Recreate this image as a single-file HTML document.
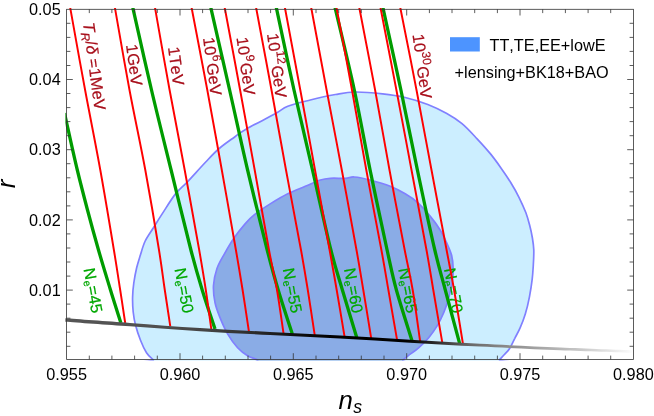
<!DOCTYPE html>
<html><head><meta charset="utf-8"><style>
html,body{margin:0;padding:0;background:#fff;}
svg{display:block;will-change:transform;font-family:"Liberation Sans",sans-serif;font-kerning:none;}
</style></head><body>
<svg width="654" height="416" viewBox="0 0 654 416">
<rect width="654" height="416" fill="#fff"/>
<defs><clipPath id="cp"><rect x="65.4" y="8.0" width="568.0" height="352.4"/></clipPath>
<linearGradient id="bg" gradientUnits="userSpaceOnUse" x1="66.6" y1="0" x2="633.4" y2="0"><stop offset="0" stop-color="#565656"/><stop offset="0.15" stop-color="#505050"/><stop offset="0.25" stop-color="#444"/><stop offset="0.33" stop-color="#2c2c2c"/><stop offset="0.4" stop-color="#101010"/><stop offset="0.47" stop-color="#000"/><stop offset="0.6" stop-color="#000"/><stop offset="0.65" stop-color="#2a2a2a"/><stop offset="0.68" stop-color="#484848"/><stop offset="0.712" stop-color="#686868"/><stop offset="0.765" stop-color="#858585"/><stop offset="0.835" stop-color="#a5a5a5"/><stop offset="0.906" stop-color="#c8c8c8"/><stop offset="0.964" stop-color="#e8e8e8"/><stop offset="0.992" stop-color="#f8f8f8"/><stop offset="1" stop-color="#fff"/></linearGradient></defs>
<g clip-path="url(#cp)">
<path d="M235.0 136.7 C239.5 133.4 239.7 132.7 246.4 128.9 C253.1 125.1 268.3 117.6 275.2 113.8 C282.1 110.0 281.9 108.6 287.8 106.3 C293.7 104.0 302.4 102.0 310.3 100.0 C318.2 98.0 327.9 95.8 335.4 94.5 C342.8 93.2 347.1 92.1 355.0 92.0 C362.9 91.9 374.2 92.9 382.6 93.8 C391.0 94.7 397.7 95.7 405.2 97.5 C412.7 99.3 420.9 101.8 427.8 104.5 C434.7 107.2 441.1 110.3 446.8 113.5 C452.5 116.7 456.9 119.4 462.0 123.6 C467.1 127.8 472.4 133.8 477.1 138.8 C481.9 143.9 486.6 149.1 490.5 153.9 C494.4 158.7 497.2 162.6 500.6 167.4 C504.0 172.2 507.6 177.5 510.7 182.5 C513.8 187.5 516.6 192.5 519.1 197.6 C521.6 202.7 524.1 208.2 525.9 212.8 C527.6 217.4 528.5 220.8 529.6 225.0 C530.7 229.2 531.7 233.8 532.4 238.0 C533.1 242.2 533.6 245.5 533.8 250.0 C533.9 254.5 533.6 260.3 533.3 265.2 C533.0 270.1 532.8 274.0 532.2 279.2 C531.6 284.4 530.6 290.8 529.5 296.6 C528.4 302.4 526.9 308.8 525.3 314.0 C523.7 319.2 521.9 323.8 520.1 327.9 C518.4 331.9 516.5 334.9 514.8 338.3 C513.0 341.7 511.3 345.8 509.6 348.5 C507.9 351.2 506.1 352.6 504.4 354.5 C502.7 356.4 501.0 358.1 499.4 359.8 C497.8 361.6 551.6 364.1 495.0 365.0 C438.4 365.9 216.9 365.9 160.0 365.0 C103.1 364.1 155.6 361.9 153.3 359.8 C151.1 357.8 148.6 356.0 146.5 352.7 C144.4 349.4 142.3 344.8 140.5 340.2 C138.7 335.6 136.7 329.7 135.5 325.0 C134.3 320.3 133.7 316.7 133.2 312.0 C132.7 307.3 132.5 301.8 132.6 297.0 C132.7 292.2 133.1 287.8 133.8 283.0 C134.5 278.2 135.5 272.7 136.6 268.0 C137.7 263.3 139.0 259.5 140.4 255.0 C141.8 250.5 143.0 245.6 145.2 241.0 C147.4 236.4 150.8 232.0 153.6 227.5 C156.4 223.0 158.3 219.7 162.0 214.1 C165.7 208.5 171.3 199.2 175.5 193.9 C179.7 188.6 182.2 187.4 187.2 182.1 C192.2 176.8 200.4 167.6 205.7 162.0 C211.0 156.4 214.3 152.7 219.2 148.5 C224.1 144.3 230.5 140.0 235.0 136.7Z" fill="#cceeff" stroke="#8080ff" stroke-width="1.7"/>
<path d="M245.1 223.9 C248.5 220.0 249.7 218.4 253.9 215.1 C258.1 211.8 264.6 207.4 270.2 203.9 C275.8 200.4 281.9 196.7 287.8 193.8 C293.7 190.9 299.9 188.6 305.3 186.3 C310.7 184.0 316.2 181.3 320.4 180.0 C324.6 178.7 326.2 178.6 330.4 178.3 C334.6 178.0 341.4 178.5 345.4 178.3 C349.4 178.1 350.1 176.7 354.2 177.0 C358.3 177.3 364.1 178.4 370.1 180.0 C376.1 181.6 384.4 184.0 390.2 186.3 C396.0 188.6 400.6 191.1 405.2 193.8 C409.8 196.5 413.5 198.8 417.7 202.6 C421.9 206.4 426.5 211.8 430.3 216.4 C434.1 221.0 437.6 225.8 440.3 230.2 C443.0 234.6 444.7 238.5 446.6 242.7 C448.5 246.9 450.5 251.0 451.6 255.3 C452.7 259.6 453.1 264.2 453.2 268.7 C453.3 273.2 452.9 277.4 452.2 282.2 C451.5 287.0 450.3 292.2 448.9 297.3 C447.5 302.4 445.8 307.7 443.8 312.5 C441.8 317.3 439.6 321.7 437.1 325.9 C434.6 330.1 431.8 334.0 428.7 337.7 C425.6 341.4 421.7 345.1 418.6 347.8 C415.5 350.6 412.8 352.2 410.2 354.2 C407.6 356.2 405.2 358.0 403.0 359.8 C400.8 361.6 419.8 364.1 397.0 365.0 C374.2 365.9 289.3 365.9 266.0 365.0 C242.7 364.1 260.3 361.4 257.2 359.8 C254.1 358.2 250.9 357.7 247.6 355.7 C244.3 353.7 240.9 351.3 237.6 347.7 C234.3 344.1 230.5 338.9 227.6 333.9 C224.7 328.9 222.1 322.8 220.0 317.6 C217.9 312.4 216.1 307.9 215.0 302.5 C213.9 297.1 213.2 291.1 213.5 285.5 C213.8 279.9 215.2 273.7 216.9 268.7 C218.6 263.7 220.8 260.3 223.6 255.3 C226.4 250.3 230.1 243.7 233.7 238.5 C237.3 233.3 241.7 227.8 245.1 223.9Z" fill="#8aace6" stroke="#8080ff" stroke-width="1.7"/>
<g fill="none" stroke="#009c00" stroke-width="3.3">
<path d="M64.5 113.0 C64.9 114.7 64.6 113.5 66.7 123.0 C68.8 132.5 73.8 155.5 77.3 170.0 C80.8 184.5 84.0 196.7 87.5 210.0 C91.0 223.3 94.7 236.7 98.5 250.0 C102.3 263.3 106.8 277.8 110.5 290.0 C114.2 302.2 119.2 317.5 120.9 323.0"/>
<path d="M132.7 7.3 C132.8 7.6 130.1 -4.5 133.2 9.3 C136.3 23.1 145.2 63.2 151.5 90.0 C157.8 116.8 164.5 143.3 171.1 170.0 C177.7 196.7 185.7 230.0 190.9 250.0 C196.1 270.0 198.2 276.8 202.2 290.0 C206.2 303.2 212.9 322.5 215.0 329.0"/>
<path d="M210.7 7.3 C210.8 7.6 208.1 -4.5 211.2 9.3 C214.3 23.1 223.5 63.2 229.6 90.0 C235.7 116.8 241.3 143.3 247.6 170.0 C253.9 196.7 262.1 230.0 267.2 250.0 C272.3 270.0 274.0 276.0 278.2 290.0 C282.4 304.0 289.9 326.6 292.3 333.9"/>
<path d="M276.3 7.3 C276.3 7.6 273.7 -4.5 276.7 9.3 C279.7 23.1 288.0 63.2 294.0 90.0 C300.0 116.8 306.4 143.3 312.5 170.0 C318.6 196.7 325.9 230.0 330.9 250.0 C335.9 270.0 338.1 275.4 342.4 290.0 C346.7 304.6 354.4 329.8 356.8 337.8"/>
<path d="M335.0 7.3 C335.1 7.6 332.3 -4.5 335.5 9.3 C338.7 23.1 348.5 63.2 354.3 90.0 C360.1 116.8 364.6 143.3 370.1 170.0 C375.6 196.7 382.7 230.0 387.1 250.0 C391.5 270.0 392.2 274.8 396.4 290.0 C400.6 305.2 409.6 332.8 412.2 341.4"/>
<path d="M382.9 7.3 C382.9 7.6 380.3 -4.5 383.3 9.3 C386.3 23.1 395.2 63.2 400.9 90.0 C406.6 116.8 411.8 143.3 417.4 170.0 C423.0 196.7 430.1 230.0 434.8 250.0 C439.5 270.0 441.2 274.4 445.3 290.0 C449.4 305.6 457.2 334.5 459.6 343.4"/>
</g>
<text transform="translate(83.4,269.0) rotate(79.5)" font-size="16.25" fill="#00a800" stroke="#00a800" stroke-width="0.2">N<tspan font-size="10.6" dy="2.3" dx="0.3">e</tspan><tspan dy="-2.3" dx="0.2" font-size="16.25">&#8203;</tspan>=45</text>
<text transform="translate(174.5,269.0) rotate(79.5)" font-size="16.25" fill="#00a800" stroke="#00a800" stroke-width="0.2">N<tspan font-size="10.6" dy="2.3" dx="0.3">e</tspan><tspan dy="-2.3" dx="0.2" font-size="16.25">&#8203;</tspan>=50</text>
<text transform="translate(282.8,269.0) rotate(79.5)" font-size="16.25" fill="#00a800" stroke="#00a800" stroke-width="0.2">N<tspan font-size="10.6" dy="2.3" dx="0.3">e</tspan><tspan dy="-2.3" dx="0.2" font-size="16.25">&#8203;</tspan>=55</text>
<text transform="translate(343.9,269.0) rotate(79.5)" font-size="16.25" fill="#00a800" stroke="#00a800" stroke-width="0.2">N<tspan font-size="10.6" dy="2.3" dx="0.3">e</tspan><tspan dy="-2.3" dx="0.2" font-size="16.25">&#8203;</tspan>=60</text>
<text transform="translate(398.3,269.0) rotate(79.5)" font-size="16.25" fill="#00a800" stroke="#00a800" stroke-width="0.2">N<tspan font-size="10.6" dy="2.3" dx="0.3">e</tspan><tspan dy="-2.3" dx="0.2" font-size="16.25">&#8203;</tspan>=65</text>
<text transform="translate(443.9,269.0) rotate(79.5)" font-size="16.25" fill="#00a800" stroke="#00a800" stroke-width="0.2">N<tspan font-size="10.6" dy="2.3" dx="0.3">e</tspan><tspan dy="-2.3" dx="0.2" font-size="16.25">&#8203;</tspan>=70</text>
<g fill="none" stroke="#ff0000" stroke-width="1.95">
<path d="M70.1 7.3 C70.2 7.6 68.0 -4.5 70.5 9.3 C73.0 23.1 80.1 63.2 85.1 90.0 C90.1 116.8 95.5 143.3 100.3 170.0 C105.1 196.7 110.6 230.0 113.9 250.0 C117.2 270.0 118.3 277.8 120.2 290.0 C122.1 302.2 124.4 317.5 125.2 323.0"/>
<path d="M114.8 7.3 C114.9 7.6 112.8 -4.5 115.2 9.3 C117.6 23.1 124.5 63.2 129.5 90.0 C134.5 116.8 140.4 143.3 145.3 170.0 C150.2 196.7 155.8 230.0 159.0 250.0 C162.2 270.0 162.9 277.3 164.8 290.0 C166.7 302.7 169.4 320.3 170.3 326.4"/>
<path d="M154.9 7.3 C155.0 7.6 152.9 -4.5 155.3 9.3 C157.7 23.1 164.7 63.2 169.6 90.0 C174.5 116.8 179.8 143.3 184.7 170.0 C189.6 196.7 195.7 230.0 199.2 250.0 C202.7 270.0 203.8 276.8 205.8 290.0 C207.8 303.2 210.4 322.7 211.3 329.2"/>
<path d="M191.5 7.3 C191.6 7.6 189.3 -4.5 191.9 9.3 C194.5 23.1 202.3 63.2 207.3 90.0 C212.3 116.8 217.0 143.3 221.8 170.0 C226.6 196.7 232.4 230.0 235.9 250.0 C239.4 270.0 240.4 276.4 242.6 290.0 C244.8 303.6 247.8 324.5 248.9 331.4"/>
<path d="M224.6 7.3 C224.7 7.6 222.4 -4.5 225.0 9.3 C227.6 23.1 235.2 63.2 240.1 90.0 C245.0 116.8 249.9 143.3 254.7 170.0 C259.5 196.7 265.3 230.0 269.0 250.0 C272.7 270.0 274.6 276.1 277.0 290.0 C279.4 303.9 282.4 325.9 283.5 333.1"/>
<path d="M256.0 7.3 C256.1 7.6 253.8 -4.5 256.4 9.3 C259.0 23.1 266.6 63.2 271.5 90.0 C276.4 116.8 281.1 143.3 286.0 170.0 C290.9 196.7 297.4 230.0 301.0 250.0 C304.6 270.0 305.5 275.7 307.8 290.0 C310.1 304.3 313.6 328.0 314.8 335.6"/>
<path d="M284.8 7.3 C284.9 7.6 282.6 -4.5 285.2 9.3 C287.8 23.1 295.3 63.2 300.3 90.0 C305.3 116.8 310.1 143.3 315.0 170.0 C319.9 196.7 326.0 230.0 329.6 250.0 C333.2 270.0 334.2 275.5 336.7 290.0 C339.2 304.5 343.3 329.1 344.6 336.9"/>
<path d="M311.1 7.3 C311.2 7.6 308.9 -4.5 311.5 9.3 C314.1 23.1 321.6 63.2 326.6 90.0 C331.7 116.8 336.8 143.3 341.8 170.0 C346.8 196.7 352.9 230.0 356.5 250.0 C360.1 270.0 360.8 275.2 363.3 290.0 C365.8 304.8 370.0 330.8 371.3 338.9"/>
<path d="M336.4 7.3 C336.5 7.6 334.2 -4.5 336.8 9.3 C339.4 23.1 347.1 63.2 352.0 90.0 C356.9 116.8 361.4 143.3 366.3 170.0 C371.2 196.7 377.7 230.0 381.4 250.0 C385.1 270.0 385.8 274.9 388.4 290.0 C391.0 305.1 395.7 332.2 397.2 340.6"/>
<path d="M359.2 7.3 C359.3 7.6 357.0 -4.5 359.6 9.3 C362.2 23.1 370.1 63.2 375.1 90.0 C380.1 116.8 384.6 143.3 389.5 170.0 C394.4 196.7 400.8 230.0 404.7 250.0 C408.6 270.0 410.1 274.7 412.7 290.0 C415.3 305.3 418.9 333.2 420.2 341.9"/>
<path d="M380.4 7.3 C380.5 7.6 378.1 -4.5 380.8 9.3 C383.5 23.1 391.3 63.2 396.4 90.0 C401.5 116.8 406.5 143.3 411.5 170.0 C416.5 196.7 422.9 230.0 426.5 250.0 C430.1 270.0 430.7 274.6 433.3 290.0 C435.9 305.4 440.8 333.9 442.3 342.7"/>
<path d="M400.2 7.3 C400.3 7.6 397.9 -4.5 400.6 9.3 C403.3 23.1 411.4 63.2 416.5 90.0 C421.6 116.8 426.5 143.3 431.5 170.0 C436.5 196.7 442.8 230.0 446.6 250.0 C450.4 270.0 451.4 274.4 454.1 290.0 C456.8 305.6 461.4 334.6 462.9 343.5"/>
</g>
<path d="M64.8 318.3 C75.7 319.1 107.5 321.3 130.0 322.9 C152.5 324.6 176.7 326.5 200.0 328.0 C223.3 329.5 246.7 330.7 270.0 331.9 C293.3 333.2 316.7 334.3 340.0 335.6 C363.3 336.9 386.7 338.5 410.0 339.8 C433.3 341.2 455.0 342.5 480.0 343.8 C505.0 345.1 534.5 346.4 560.0 347.4 C585.5 348.5 620.8 349.7 633.0 350.2 L633.0 352.8 C620.8 352.4 585.5 351.2 560.0 350.2 C534.5 349.1 505.0 347.8 480.0 346.6 C455.0 345.4 433.3 344.1 410.0 342.8 C386.7 341.4 363.3 339.9 340.0 338.6 C316.7 337.3 293.3 336.3 270.0 335.1 C246.7 333.8 223.3 332.7 200.0 331.2 C176.7 329.7 152.5 327.8 130.0 326.3 C107.5 324.7 75.7 322.5 64.8 321.7 Z" fill="url(#bg)"/>
</g>
<g stroke="#333" stroke-width="0.8" fill="none">
<rect x="66.6" y="9.3" width="566.8" height="350.1"/>
<path d="M89.3 359.4 v-3.8 M89.3 9.3 v3.8 M111.9 359.4 v-3.8 M111.9 9.3 v3.8 M134.6 359.4 v-3.8 M134.6 9.3 v3.8 M157.3 359.4 v-3.8 M157.3 9.3 v3.8 M180.0 359.4 v-6.2 M180.0 9.3 v6.2 M202.6 359.4 v-3.8 M202.6 9.3 v3.8 M225.3 359.4 v-3.8 M225.3 9.3 v3.8 M248.0 359.4 v-3.8 M248.0 9.3 v3.8 M270.6 359.4 v-3.8 M270.6 9.3 v3.8 M293.3 359.4 v-6.2 M293.3 9.3 v6.2 M316.0 359.4 v-3.8 M316.0 9.3 v3.8 M338.7 359.4 v-3.8 M338.7 9.3 v3.8 M361.3 359.4 v-3.8 M361.3 9.3 v3.8 M384.0 359.4 v-3.8 M384.0 9.3 v3.8 M406.7 359.4 v-6.2 M406.7 9.3 v6.2 M429.4 359.4 v-3.8 M429.4 9.3 v3.8 M452.0 359.4 v-3.8 M452.0 9.3 v3.8 M474.7 359.4 v-3.8 M474.7 9.3 v3.8 M497.4 359.4 v-3.8 M497.4 9.3 v3.8 M520.0 359.4 v-6.2 M520.0 9.3 v6.2 M542.7 359.4 v-3.8 M542.7 9.3 v3.8 M565.4 359.4 v-3.8 M565.4 9.3 v3.8 M588.1 359.4 v-3.8 M588.1 9.3 v3.8 M610.7 359.4 v-3.8 M610.7 9.3 v3.8 M66.6 346.3 h3.8 M633.4 346.3 h-3.8 M66.6 332.2 h3.8 M633.4 332.2 h-3.8 M66.6 318.2 h3.8 M633.4 318.2 h-3.8 M66.6 304.1 h3.8 M633.4 304.1 h-3.8 M66.6 290.1 h6.2 M633.4 290.1 h-6.2 M66.6 276.1 h3.8 M633.4 276.1 h-3.8 M66.6 262.0 h3.8 M633.4 262.0 h-3.8 M66.6 248.0 h3.8 M633.4 248.0 h-3.8 M66.6 233.9 h3.8 M633.4 233.9 h-3.8 M66.6 219.9 h6.2 M633.4 219.9 h-6.2 M66.6 205.9 h3.8 M633.4 205.9 h-3.8 M66.6 191.8 h3.8 M633.4 191.8 h-3.8 M66.6 177.8 h3.8 M633.4 177.8 h-3.8 M66.6 163.7 h3.8 M633.4 163.7 h-3.8 M66.6 149.7 h6.2 M633.4 149.7 h-6.2 M66.6 135.7 h3.8 M633.4 135.7 h-3.8 M66.6 121.6 h3.8 M633.4 121.6 h-3.8 M66.6 107.6 h3.8 M633.4 107.6 h-3.8 M66.6 93.5 h3.8 M633.4 93.5 h-3.8 M66.6 79.5 h6.2 M633.4 79.5 h-6.2 M66.6 65.5 h3.8 M633.4 65.5 h-3.8 M66.6 51.4 h3.8 M633.4 51.4 h-3.8 M66.6 37.4 h3.8 M633.4 37.4 h-3.8 M66.6 23.3 h3.8 M633.4 23.3 h-3.8"/>
</g>
<g font-size="16.25" fill="#000">
<text x="66.6" y="379.9" text-anchor="middle">0.955</text>
<text x="180.0" y="379.9" text-anchor="middle">0.960</text>
<text x="293.3" y="379.9" text-anchor="middle">0.965</text>
<text x="406.7" y="379.9" text-anchor="middle">0.970</text>
<text x="520.0" y="379.9" text-anchor="middle">0.975</text>
<text x="633.4" y="379.9" text-anchor="middle">0.980</text>
<text x="60.7" y="295.8" text-anchor="end">0.01</text>
<text x="60.7" y="225.6" text-anchor="end">0.02</text>
<text x="60.7" y="155.4" text-anchor="end">0.03</text>
<text x="60.7" y="85.2" text-anchor="end">0.04</text>
<text x="60.7" y="15.0" text-anchor="end">0.05</text>
</g>
<text transform="translate(15.1,188.3) rotate(-90)" font-size="25.8" font-style="italic">r</text>
<text x="338.6" y="408.5" font-size="25.8" font-style="italic">n<tspan font-size="17.7" dy="4.7" dx="0.3">s</tspan></text>
<rect x="450" y="37.2" width="29.8" height="14.3" fill="#4d94ff"/>
<text x="489.5" y="50.5" font-size="16.25">TT,TE,EE+lowE</text>
<text x="454.6" y="77.8" font-size="16.25">+lensing+BK18+BAO</text>
<text transform="translate(83.0,23.0) rotate(82.5)" font-size="16.25" fill="#a8101c" stroke="#a8101c" stroke-width="0.2"><tspan font-style="italic">T</tspan><tspan font-size="12" dy="3.5"><tspan font-style="italic">R</tspan></tspan><tspan dy="-3.5" font-size="16.25">&#8203;</tspan>/<tspan font-style="italic">δ</tspan> =1MeV</text>
<text transform="translate(126.0,45.0) rotate(82.5)" font-size="16.25" fill="#a8101c" stroke="#a8101c" stroke-width="0.2">1GeV</text>
<text transform="translate(168.0,47.5) rotate(82.5)" font-size="16.25" fill="#a8101c" stroke="#a8101c" stroke-width="0.2">1TeV</text>
<text transform="translate(203.1,38.0) rotate(82.5)" font-size="16.25" fill="#a8101c" stroke="#a8101c" stroke-width="0.2">10<tspan font-size="12" dy="-6.8" dx="0.3">6</tspan><tspan dy="6.8" dx="0.8" font-size="16.25">&#8203;</tspan>GeV</text>
<text transform="translate(236.6,37.8) rotate(82.5)" font-size="16.25" fill="#a8101c" stroke="#a8101c" stroke-width="0.2">10<tspan font-size="12" dy="-6.8" dx="0.3">9</tspan><tspan dy="6.8" dx="0.8" font-size="16.25">&#8203;</tspan>GeV</text>
<text transform="translate(267.1,34.0) rotate(82.5)" font-size="16.25" fill="#a8101c" stroke="#a8101c" stroke-width="0.2">10<tspan font-size="12" dy="-6.8" dx="0.3">12</tspan><tspan dy="6.8" dx="0.8" font-size="16.25">&#8203;</tspan>GeV</text>
<text transform="translate(412.5,34.7) rotate(82.5)" font-size="16.25" fill="#a8101c" stroke="#a8101c" stroke-width="0.2">10<tspan font-size="12" dy="-6.8" dx="0.3">30</tspan><tspan dy="6.8" dx="0.8" font-size="16.25">&#8203;</tspan>GeV</text>
</svg></body></html>
